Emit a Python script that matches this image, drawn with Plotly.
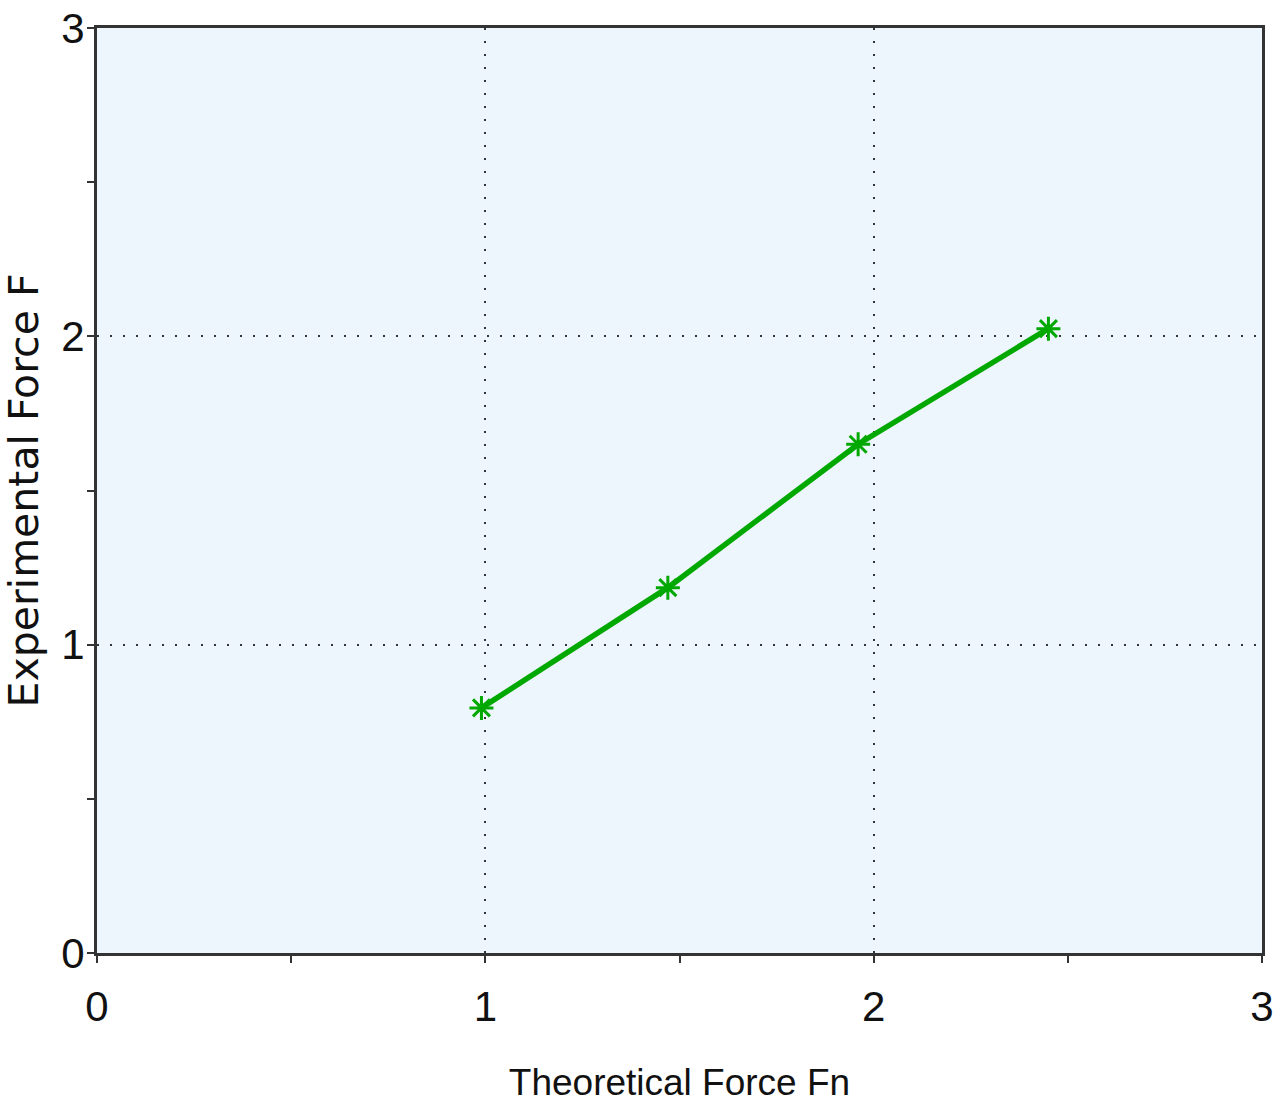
import plotly.graph_objects as go

theoretical_force = [0.99, 1.47, 1.96, 2.45]
experimental_force = [0.795, 1.185, 1.65, 2.025]
tick_values = [0, 1, 2, 3]
tick_labels = ["0", "1", "2", "3"]

base = "Liberation Sans, Arial"

fig = go.Figure()
fig.add_trace(go.Scatter(
    x=theoretical_force, y=experimental_force,
    mode="lines+markers",
    line=dict(color="#00A800", width=5.5),
    marker=dict(symbol="asterisk-open", size=20, line=dict(color="#00A800", width=3)),
    showlegend=False,
))

axis_common = dict(
    range=[0, 3], tickvals=tick_values, ticktext=tick_labels,
    showline=True, linecolor="#333333", linewidth=3, mirror=True,
    showgrid=True, gridcolor="#333333", gridwidth=2, griddash="2px,11px",
    zeroline=False, ticks="outside", ticklen=7, tickwidth=2, tickcolor="#333333",
    minor=dict(dtick=0.5, ticks="outside", ticklen=7, tickwidth=2, tickcolor="#333333", showgrid=False),
    tickfont=dict(family=base, size=42, color="#111111"),
)

fig.update_xaxes(**axis_common,
                 title=dict(text="Theoretical Force Fn", font=dict(family=base, size=37, color="#111111"), standoff=40),
                 ticklabelstandoff=8)
fig.update_yaxes(**axis_common,
                 title=dict(text="Experimental Force F", font=dict(family="DejaVu Sans", size=41, color="#111111"), standoff=10),
                 ticklabelstandoff=-6)

fig.update_layout(
    width=1287, height=1111,
    margin=dict(l=97, r=25, t=28, b=158, autoexpand=False),
    plot_bgcolor="#EEF6FD", paper_bgcolor="white",
)

fig.write_html("out.html")
